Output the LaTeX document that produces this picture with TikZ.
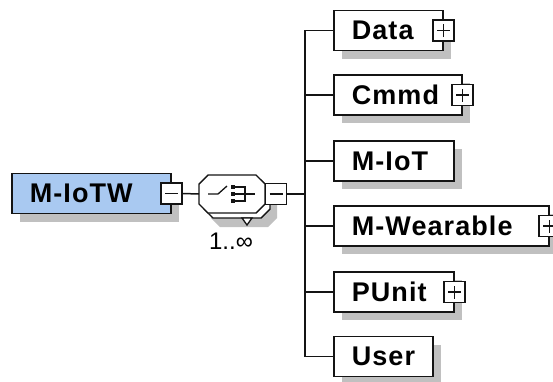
\documentclass[tikz,border=0pt]{standalone}
\usepackage{fontspec}
\setmainfont{Liberation Sans}
\usetikzlibrary{
  positioning,
  shadows,
  calc
}
\definecolor{rootfill}{RGB}{169, 201, 241}
\definecolor{shadowgray}{RGB}{192, 192, 192}
\definecolor{linecolor}{RGB}{20, 20, 20}
\tikzset{
elemtext/.style={
  font=\fontsize{27}{30}\selectfont\bfseries\addfontfeature{LetterSpace=4},
  text=black
},
elembox/.style={
  rectangle,
  draw=linecolor,
  line width=1.6pt,
  fill=white,
  minimum height=40pt,
  inner xsep=18pt,
  inner ysep=0pt,
  text width=#1,
  align=left,
  anchor=west,
  elemtext,
  drop shadow={shadow xshift=8pt, shadow yshift=-8pt, fill=shadowgray, opacity=1}
},
rootbox/.style={
  elembox=#1,
  fill=rootfill
},
togglebox/.style={
  rectangle,
  draw=linecolor,
  line width=1.4pt,
  fill=white,
  minimum size=21pt,
  inner sep=0pt
},
plusbox/.style={
  togglebox,
  path picture={
    \draw[line width=1.3pt]
      ([xshift=-6.5pt]path picture bounding box.center) -- ([xshift=6.5pt]path picture bounding box.center)
      ([yshift=-6.5pt]path picture bounding box.center) -- ([yshift=6.5pt]path picture bounding box.center);
  }
},
minusbox/.style={
  togglebox,
  path picture={
    \draw[line width=1.3pt]
      ([xshift=-6.5pt]path picture bounding box.center) -- ([xshift=6.5pt]path picture bounding box.center);
  }
},
seqbox/.style={
  rectangle,
  minimum width=66pt,
  minimum height=38pt,
  inner sep=0pt,
  outer sep=0pt
},
multlabel/.style={
  font=\fontsize{24}{26}\selectfont,
  text=black
},
conn/.style={
  draw=linecolor,
  line width=1.5pt
}
}
% octogone autour d'un noeud
\newcommand{\octdraw}[2][]{%
  \path[#1] ($(#2.north west)+(9,0)$) -- ($(#2.north east)+(-9,0)$)
    -- ($(#2.north east)+(0,9)$) -- ($(#2.south east)+(0,-9)$)
    -- ($(#2.south east)+(-9,0)$) -- ($(#2.south west)+(9,0)$)
    -- ($(#2.south west)+(0,-9)$) -- ($(#2.north west)+(0,9)$) -- cycle;}

\begin{document}
\begin{tikzpicture}[x=1pt, y=-1pt]
\useasboundingbox (0,0) rectangle (553,381);

% Racine
\node[rootbox=123pt] (root) at (11,193.5) {M-IoTW};
\node[minusbox] (rootminus) at (root.east) {};

% Sequence
\node[seqbox] (seqshadow) at (244,208) {};
\node[seqbox] (seqback) at (237,199) {};
\node[seqbox] (seq) at (232,194) {};
\octdraw[fill=shadowgray]{seqshadow}
\octdraw[conn, line width=1.4pt, fill=white]{seqback}
\draw[conn, line width=1.3pt, fill=white] ($(seqback.south)+(5,0)$) -- ($(seqback.south)+(15,0)$) -- ($(seqback.south)+(10,7)$) -- cycle;
\octdraw[conn, line width=1.4pt, fill=white]{seq}
\draw[conn, line width=1.3pt] ($(seq.center)+(-24,0)$) -- ($(seq.center)+(-14,0)$) -- ($(seq.center)+(-5,-8)$);
\foreach \dy in {-7,0,7}
  \fill[linecolor] ($(seq.center)+(1,\dy)$) +(-2,-2) rectangle +(2,2);
\draw[conn, line width=1.3pt] ($(seq.center)+(3,-7)$) -- ($(seq.center)+(13,-7)$) -- ($(seq.center)+(13,7)$) -- ($(seq.center)+(3,7)$);
\draw[conn, line width=1.3pt] ($(seq.center)+(3,0)$) -- ($(seq.center)+(23,0)$);
\node[minusbox, right=0pt of seq] (seqminus) {};
\node[multlabel] (mult) at (231,241) {1..∞};

% Enfants
\coordinate (trunk) at (305,194);
\node[elembox=73pt] (data) at (333,30.5) {Data};
\node[elembox=92pt] (cmmd) at (333,95) {Cmmd};
\node[elembox=84pt] (miot) at (333,161) {M-IoT};
\node[elembox=179pt] (mwear) at (333,226) {M-Wearable};
\node[elembox=84pt] (punit) at (333,292) {PUnit};
\node[elembox=63pt] (user) at (333,356.5) {User};

\node[plusbox] (dataplus) at (data.east) {};
\node[plusbox] (cmmdplus) at (cmmd.east) {};
\node[plusbox] (mwearplus) at (mwear.east) {};
\node[plusbox] (punitplus) at (punit.east) {};

% Liens
\draw[conn] (rootminus.east) -- (seq.west);
\draw[conn] (seqminus.east) -- (trunk);
\foreach \c in {data,cmmd,miot,mwear,punit,user}
  \draw[conn] (trunk) |- (\c.west);

\end{tikzpicture}
\end{document}
